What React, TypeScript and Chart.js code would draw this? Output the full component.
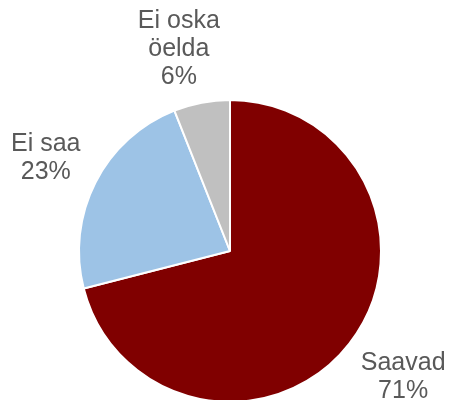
import React, { useEffect, useRef } from "react";
import { Chart, registerables } from "chart.js";

Chart.register(...registerables);

const categories: string[][] = [["Saavad"], ["Ei saa"], ["Ei oska", "öelda"]];
const values: number[] = [71, 23, 6];
const colors: string[] = ["#800000", "#9DC3E6", "#C0C0C0"];

const labelPlugin = {
  id: "outerLabels",
  afterDraw(chart: any) {
    const ctx = chart.ctx;
    const meta = chart.getDatasetMeta(0);
    ctx.save();
    ctx.font = "25px 'Liberation Sans', Arial, sans-serif";
    ctx.fillStyle = "#595959";
    ctx.textAlign = "center";
    ctx.textBaseline = "middle";
    const lineH = 28;
    const nudgeX = [8, 2, -12];
    const nudgeY = [-2, 2, 3];
    meta.data.forEach((arc: any, i: number) => {
      const p = arc.getProps(["x", "y", "startAngle", "endAngle", "outerRadius"], true);
      const mid = (p.startAngle + p.endAngle) / 2;
      const r = p.outerRadius + 58;
      const cx = p.x + Math.cos(mid) * r + nudgeX[i];
      const cy = p.y + Math.sin(mid) * r + nudgeY[i];
      const lines = [...categories[i], values[i] + "%"];
      const h = (lines.length - 1) * lineH;
      lines.forEach((t, k) => {
        ctx.fillText(t, cx, cy - h / 2 + k * lineH);
      });
    });
    ctx.restore();
  },
};

export default function App() {
  const ref = useRef<HTMLCanvasElement>(null);
  useEffect(() => {
    if (!ref.current) return;
    const chart = new Chart(ref.current, {
      type: "pie",
      data: {
        labels: categories.map((c) => c.join(" ")),
        datasets: [
          {
            data: values,
            backgroundColor: colors,
            borderColor: "#ffffff",
            borderWidth: 2,
          },
        ],
      },
      options: {
        animation: false,
        responsive: false,
        maintainAspectRatio: false,
        layout: { padding: { top: 99, bottom: 7, left: 78, right: 68 } },
        plugins: {
          legend: { display: false },
          tooltip: { enabled: false },
        },
      },
      plugins: [labelPlugin],
    });
    return () => chart.destroy();
  }, []);
  return (
    <div
      style={{
        position: "fixed",
        left: 0,
        top: 0,
        width: 450,
        height: 400,
        overflow: "hidden",
        background: "#ffffff",
      }}
    >
      <canvas ref={ref} width={450} height={410} style={{ display: "block" }} />
    </div>
  );
}
